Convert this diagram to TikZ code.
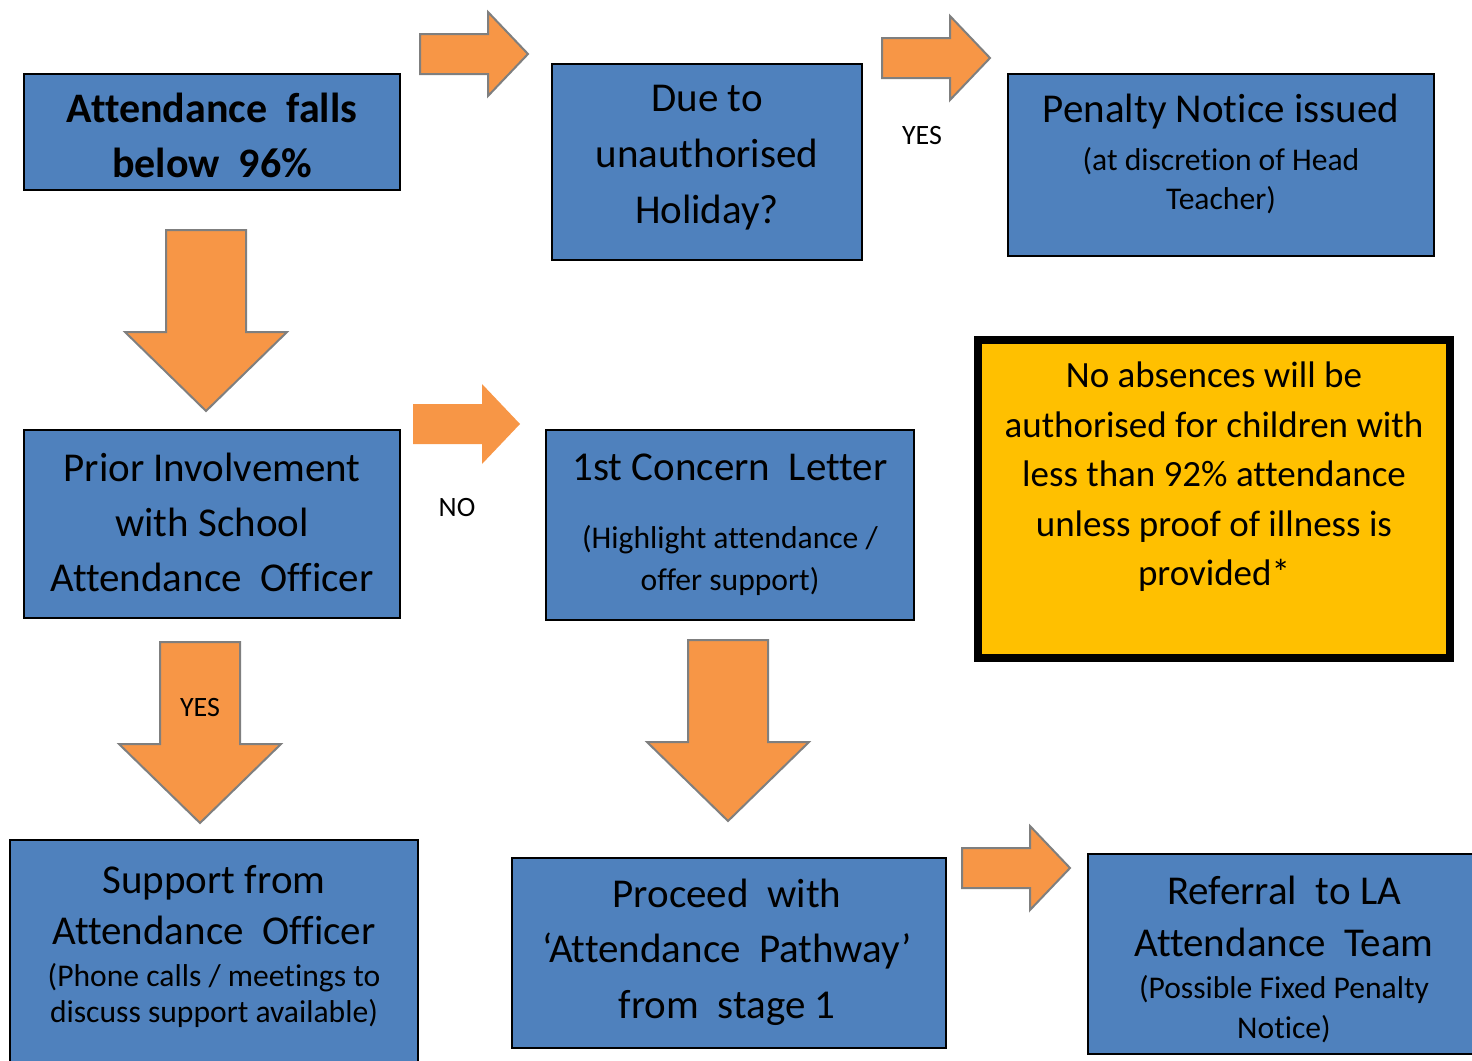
\documentclass[tikz,border=0pt]{standalone}
\usepackage{fontspec}
\setmainfont{Carlito}[Ligatures = {TeX, NoCommon}]

\definecolor{boxblue}{HTML}{4F81BD}
\definecolor{arroworange}{HTML}{F79646}
\definecolor{arrowgrey}{HTML}{7F7F7F}
\definecolor{notegold}{HTML}{FFC000}

\tikzset{
  box/.style = {draw, line width = 1pt, fill = boxblue, inner sep = 0pt},
  txt/.style = {align = center, inner sep = 0pt},
  blockarrow/.style = {fill = arroworange, draw = arrowgrey, line width = 1pt, line join = miter},
  tag/.style = {inner sep = 0pt, font = \fontsize{14}{17}\selectfont}
}

\newcommand\headsize{\fontsize{20.5}{27.5}\selectfont}
\newcommand\notesize{\fontsize{15.8}{20}\selectfont}

\begin{document}
\begin{tikzpicture}[x = 0.5pt, y = -0.5pt]
\useasboundingbox (0,0) rectangle (1472,1060);

% boxes
\node[box, minimum width = 188pt, minimum height = 58pt] (drop) at (212,132) {};
\node[box, minimum width = 155pt, minimum height = 98pt] (holiday) at (707,162) {};
\node[box, minimum width = 213pt, minimum height = 91pt] (penalty) at (1221,165) {};
\node[box, minimum width = 188pt, minimum height = 94pt] (prior) at (212,524) {};
\node[box, minimum width = 184pt, minimum height = 95pt] (letter) at (730,525) {};
\node[draw, line width = 4pt, fill = notegold, inner sep = 0pt,
      minimum width = 236pt, minimum height = 159pt] (note) at (1214,499) {};
\node[box, minimum width = 204pt, minimum height = 120pt] (support) at (214,960) {};
\node[box, minimum width = 217pt, minimum height = 95pt] (pathway) at (729,953) {};
\node[box, minimum width = 196pt, minimum height = 100pt] (referral) at (1284,954) {};

% texts
\node[txt, font = \fontsize{21}{27.5}\selectfont\bfseries] (droptxt) at (212,135)
  {Attendance~ falls\\below~ 96\%};
\node[txt, font = \fontsize{20.5}{28}\selectfont] (holidaytxt) at (707,158)
  {Due to\\unauthorised\\Holiday?};
\node[txt, font = \fontsize{15.8}{19.5}\selectfont] (penaltytxt) at (1221,154)
  {\headsize Penalty Notice issued\\[4.5pt]
   \notesize (at discretion of Head\\
   \notesize Teacher)};
\node[txt, font = \headsize] (priortxt) at (212,522)
  {Prior Involvement\\with School\\Attendance~ Officer};
\node[txt, font = \fontsize{15.8}{21}\selectfont] (lettertxt) at (730,525)
  {\headsize 1st Concern~ Letter\\[13pt]
   \notesize (Highlight attendance /\\
   \notesize offer support)};
\node[txt, font = \fontsize{18.5}{24.75}\selectfont] (notetxt) at (1214,477)
  {No absences will be\\authorised for children with\\less than 92\% attendance\\
   unless proof of illness is\\provided*};
\node[txt, font = \fontsize{15.8}{18}\selectfont] (supporttxt) at (214,946)
  {\headsize Support from\\[7.5pt]
   \headsize Attendance~ Officer\\[3pt]
   \notesize (Phone calls / meetings to\\
   \notesize discuss support available)};
\node[txt, font = \fontsize{20.5}{27.75}\selectfont] (pathwaytxt) at (727,952)
  {Proceed~ with\\‘Attendance~ Pathway’\\from~ stage 1};
\node[txt, font = \fontsize{15.8}{20}\selectfont] (referraltxt) at (1284,959)
  {\headsize Referral~ to LA\\[6pt]
   \headsize Attendance~ Team\\[1pt]
   \notesize (Possible Fixed Penalty\\
   \notesize Notice)};

% arrows to the right
\foreach \x/\y in {420/54, 882/58, 962/868}
  \draw[blockarrow] (\x,\y-20) -- ++(68,0) -- ++(0,-22) -- ++(40,42)
    -- ++(-40,42) -- ++(0,-22) -- ++(-68,0) -- cycle;
\fill[arroworange] (413,404) -- ++(69,0) -- ++(0,-20) -- ++(38,40)
  -- ++(-38,40) -- ++(0,-20) -- ++(-69,0) -- cycle;

% arrows down
\foreach \x/\y in {206/230, 200/642, 728/640}
  \draw[blockarrow] (\x-40,\y) -- ++(80,0) -- ++(0,102) -- ++(41,0)
    -- ++(-81,79) -- ++(-81,-79) -- ++(41,0) -- cycle;

% yes / no
\node[tag] (yes1) at (922,136) {YES};
\node[tag] (no) at (457,508) {NO};
\node[tag] (yes2) at (200,708) {YES};
\end{tikzpicture}
\end{document}
